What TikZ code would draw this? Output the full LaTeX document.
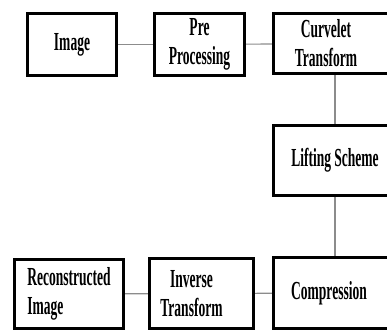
\documentclass[tikz,border=0pt]{standalone}
\usepackage{fontspec}
\setmainfont[FakeStretch=0.52]{Liberation Serif}

\begin{document}
\begin{tikzpicture}[x=1pt, y=-1pt,
	blk/.style={draw, line width=3.2pt, inner sep=2pt, align=center,
		font=\fontsize{26}{29}\selectfont\bfseries},
	link/.style={draw=black!45, line width=1.1pt}]
	\useasboundingbox (0, 0) rectangle (387, 332);
	\clip (0, 0) rectangle (387, 332);
	\node [blk, minimum width=89pt, minimum height=62pt] (img) at (72, 44.5) {Image};
	\node [blk, minimum width=90pt, minimum height=62pt] (pre) at (199.5, 44.5) {Pre\\Processing};
	\node [blk, minimum width=123pt, minimum height=60pt] (curv) at (335, 43.5) {\hspace*{-18pt}Curvelet\\\hspace*{-18pt}Transform};
	\node [blk, minimum width=123pt, minimum height=70pt] (lift) at (335, 160.5) {Lifting Scheme};
	\node [blk, minimum width=123pt, minimum height=71pt] (comp) at (335, 293) {\hspace*{-12pt}Compression};
	\node [blk, minimum width=104pt, minimum height=70pt] (inv) at (201.5, 293.5) {\hspace*{-20pt}Inverse\\\hspace*{-20pt}Transform};
	\node [blk, minimum width=109pt, minimum height=69pt, align=left] (rec) at (69, 294) {Reconstructed\\Image};
	\draw [link] (img) -- (pre);
	\draw [link] (pre) -- (curv);
	\draw [link] (curv) -- (lift);
	\draw [link] (lift) -- (comp);
	\draw [link] (comp) -- (inv);
	\draw [link] (inv) -- (rec);
\end{tikzpicture}
\end{document}
